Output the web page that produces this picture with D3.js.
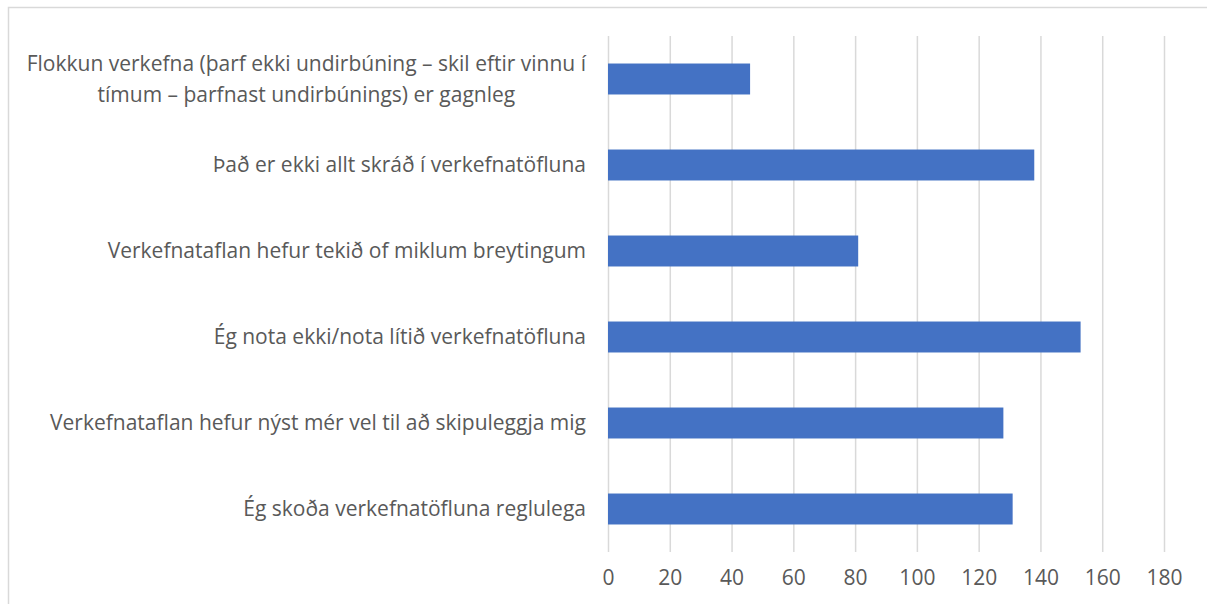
<!DOCTYPE html>
<html>
<head>
<meta charset="utf-8">
<script src="https://cdn.jsdelivr.net/npm/d3@7"></script>
<style>
  body { margin: 0; background: #fff; }
  svg text { font-family: "Open Sans", sans-serif; fill: #595959; }
</style>
</head>
<body>
<div id="app"></div>
<script>
// categories, top to bottom (each entry = wrapped lines)
const categories = [
  ['Flokkun verkefna (þarf ekki undirbúning – skil eftir vinnu í', 'tímum – þarfnast undirbúnings) er gagnleg'],
  ['Það er ekki allt skráð í verkefnatöfluna'],
  ['Verkefnataflan hefur tekið of miklum breytingum'],
  ['Ég nota ekki/nota lítið verkefnatöfluna'],
  ['Verkefnataflan hefur nýst mér vel til að skipuleggja mig'],
  ['Ég skoða verkefnatöfluna reglulega']
];
const values = [46, 138, 81, 153, 128, 131];
const xTicks = [0, 20, 40, 60, 80, 100, 120, 140, 160, 180];

const width = 1207, height = 604;
const margin = { top: 36, right: 43, bottom: 52, left: 608 };
const plotW = width - margin.left - margin.right;
const plotH = height - margin.top - margin.bottom;
const fontPx = 21;
const fontSize = fontPx + 'px';

const svg = d3.select('#app').append('svg')
  .attr('width', width)
  .attr('height', height);

// chart border
svg.append('rect')
  .attr('x', 8.5).attr('y', 7.5)
  .attr('width', 1210).attr('height', 610)
  .attr('fill', 'none')
  .attr('stroke', '#d9d9d9')
  .attr('stroke-width', 1.5);

const xScale = d3.scaleLinear()
  .domain([0, 180])
  .range([0, plotW]);

const yScale = d3.scaleBand()
  .domain(categories.map((d, i) => i))
  .range([0, plotH])
  .paddingInner(0.64)
  .paddingOuter(0.32);

const g = svg.append('g')
  .attr('transform', 'translate(' + margin.left + ',' + margin.top + ')');

// gridlines
const xGrid = g.append('g')
  .call(d3.axisBottom(xScale).tickValues(xTicks).tickSize(plotH).tickFormat(''));
xGrid.select('.domain').remove();
xGrid.selectAll('line')
  .attr('stroke', '#d9d9d9')
  .attr('stroke-width', 1.5);

// bars
g.selectAll('rect.bar')
  .data(values)
  .enter()
  .append('rect')
  .attr('class', 'bar')
  .attr('x', 0)
  .attr('y', (d, i) => yScale(i))
  .attr('width', d => xScale(d))
  .attr('height', yScale.bandwidth())
  .attr('fill', '#4472c4');

// x tick labels
const xAxis = g.append('g')
  .attr('transform', 'translate(0,' + plotH + ')')
  .call(d3.axisBottom(xScale).tickValues(xTicks).tickSize(0).tickPadding(18));
xAxis.select('.domain').remove();
xAxis.selectAll('text')
  .style('font-size', fontSize)
  .style('font-family', '"Open Sans", sans-serif')
  .attr('fill', '#595959');

// category labels
const labelX = -22;
const lineH = 31;
const labels = g.selectAll('text.cat')
  .data(categories)
  .enter()
  .append('text')
  .attr('class', 'cat')
  .style('font-size', fontSize)
  .attr('y', (d, i) => yScale(i) + yScale.bandwidth() / 2)
  .attr('dy', '0.35em');

labels.each(function(lines, i) {
  const t = d3.select(this);
  if (lines.length === 1) {
    t.attr('x', labelX).attr('text-anchor', 'end').text(lines[0]);
  } else {
    // wrapped label: lines centred under the widest one
    t.attr('text-anchor', 'middle');
    const tmp = t.append('tspan').text(lines[0]);
    const w = tmp.node().getComputedTextLength();
    tmp.remove();
    const cx = labelX - w / 2;
    lines.forEach((line, k) => {
      t.append('tspan')
        .attr('x', cx)
        .attr('dy', k === 0 ? (0.35 * fontPx - (lines.length - 1) * lineH / 2) + 'px' : lineH + 'px')
        .text(line);
    });
  }
});
</script>
</body>
</html>
